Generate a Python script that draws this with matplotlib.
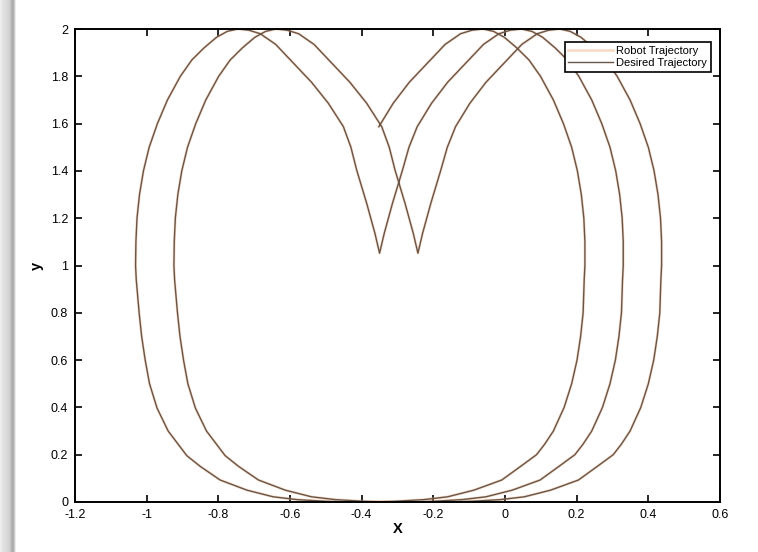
import matplotlib
matplotlib.use("Agg")
import matplotlib.pyplot as plt
import numpy as np

plt.rcParams['font.family'] = ['Liberation Sans', 'DejaVu Sans']

# heart outline relative to its centre, starting at the bottom middle,
# going left, up the left side, over the left lobe, into the cusp,
# over the right lobe and back down to the bottom middle
heart_x = [0.000, -0.080, -0.150, -0.230, -0.297, -0.370, -0.445, -0.500, -0.538,
           -0.590, -0.621, -0.642, -0.654, -0.664, -0.671, -0.679, -0.681, -0.680,
           -0.677, -0.670, -0.659, -0.643, -0.620, -0.592, -0.556, -0.524, -0.490,
           -0.455, -0.425, -0.396, -0.365, -0.333, -0.290, -0.240, -0.190, -0.143,
           -0.101, -0.080, -0.064, -0.036, -0.013, 0.000,
           0.013, 0.036, 0.064, 0.082, 0.105, 0.145, 0.190, 0.240, 0.290, 0.333,
           0.365, 0.396, 0.425, 0.455, 0.490, 0.524, 0.556, 0.592, 0.620, 0.643,
           0.659, 0.670, 0.677, 0.680, 0.680, 0.678, 0.675, 0.668, 0.658, 0.643,
           0.622, 0.592, 0.568, 0.545, 0.500, 0.448, 0.370, 0.297, 0.230, 0.150, 0.080, 0.000]
heart_y = [0.000, 0.000, 0.003, 0.010, 0.022, 0.050, 0.093, 0.150, 0.196,
           0.300, 0.397, 0.500, 0.599, 0.700, 0.800, 0.939, 1.000, 1.100,
           1.200, 1.300, 1.400, 1.500, 1.600, 1.700, 1.800, 1.869, 1.920,
           1.965, 1.990, 2.000, 1.995, 1.980, 1.935, 1.855, 1.775, 1.686,
           1.587, 1.500, 1.404, 1.263, 1.136, 1.052,
           1.136, 1.263, 1.404, 1.500, 1.587, 1.686, 1.775, 1.855, 1.935, 1.980,
           1.995, 2.000, 1.990, 1.965, 1.920, 1.869, 1.800, 1.700, 1.600, 1.500,
           1.400, 1.300, 1.200, 1.100, 1.000, 0.939, 0.800, 0.700, 0.600, 0.500,
           0.400, 0.300, 0.245, 0.200, 0.150, 0.093, 0.050, 0.022, 0.010, 0.003, 0.000, 0.000]

# the heart drifts to the right on every lap
lap_centres = [-0.457, -0.350, -0.243]
# first lap is picked up part way up its right lobe
first_lap_start = 46

path_x = []
path_y = []
for i, c in enumerate(lap_centres):
    start = first_lap_start if i == 0 else 0
    path_x += [c + v for v in heart_x[start:]]
    path_y += heart_y[start:]
path_x = np.array(path_x)
path_y = np.array(path_y)

fig = plt.figure(figsize=(7.58, 5.52), dpi=100)

# grey shadow strip down the left edge
strip = np.array([[0.93, 0.91, 0.89, 0.88, 0.87, 0.86, 0.85, 0.84, 0.83, 0.81,
                   0.77, 0.71, 0.67, 0.69, 0.79, 0.92, 1.0, 1.0]])
bg = fig.add_axes([0, 0, 18 / 758, 1])
bg.imshow(strip, aspect='auto', cmap='gray', vmin=0, vmax=1)
bg.axis('off')

ax = fig.add_axes([75 / 758, 50 / 552, 645 / 758, 473 / 552])
ax.plot(path_x, path_y, color='#eea070', lw=1.9, alpha=0.4, label='Robot Trajectory')
ax.plot(path_x, path_y, color='#66564a', lw=1.0, label='Desired Trajectory')

ax.set_xlim(-1.2, 0.6)
ax.set_ylim(0, 2)
ax.set_xticks(np.arange(-1.2, 0.61, 0.2))
ax.set_yticks(np.arange(0, 2.01, 0.2))
ax.set_xticklabels(['-1.2', '-1', '-0.8', '-0.6', '-0.4', '-0.2', '0', '0.2', '0.4', '0.6'])
ax.set_yticklabels(['0', '0.2', '0.4', '0.6', '0.8', '1', '1.2', '1.4', '1.6', '1.8', '2'])
ax.tick_params(direction='in', top=True, right=True, length=5, width=1.2,
               labelsize=9, pad=5)
for s in ax.spines.values():
    s.set_linewidth(1.4)

ax.set_xlabel('X', fontsize=10.5, fontweight='bold', labelpad=1)
ax.set_ylabel('y', fontsize=10.5, fontweight='bold', labelpad=5)

leg = ax.legend(loc='upper right', bbox_to_anchor=(0.986, 0.9725), borderaxespad=0,
                fontsize=8, fancybox=False, framealpha=1, edgecolor='black',
                handlelength=4.0, borderpad=0.35, labelspacing=0.2,
                handletextpad=0.3)
leg.get_frame().set_linewidth(1.2)

fig.savefig('out.png', dpi=100)
